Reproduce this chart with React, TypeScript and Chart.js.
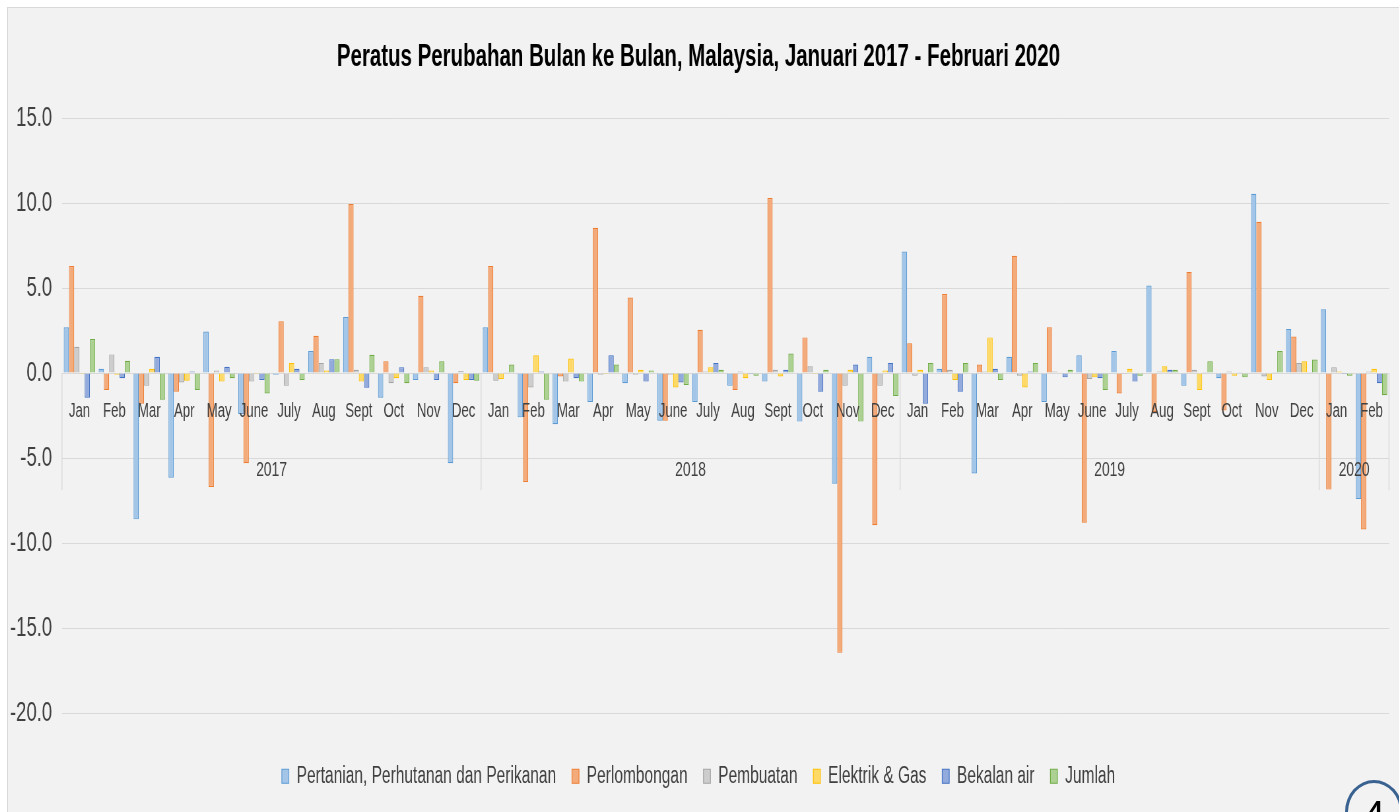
import { useEffect, useRef } from "react";
import { Chart, registerables } from "chart.js";

Chart.register(...registerables);

const monthLabels = [
  "Jan", "Feb", "Mar", "Apr", "May", "June", "July", "Aug", "Sept", "Oct", "Nov", "Dec",
  "Jan", "Feb", "Mar", "Apr", "May", "June", "July", "Aug", "Sept", "Oct", "Nov", "Dec",
  "Jan", "Feb", "Mar", "Apr", "May", "June", "July", "Aug", "Sept", "Oct", "Nov", "Dec",
  "Jan", "Feb",
];
const yearLabels = ["2017", "2018", "2019", "2020"];
const yearCounts = [12, 12, 12, 2];

const pertanian = [
  2.7, 0.25, -8.6, -6.15, 2.45, -2.4, -0.1, 1.3, 3.3, -1.45, -0.4, -5.3,
  2.7, -2.6, -3.0, -1.7, -0.6, -2.8, -1.7, -0.75, -0.5, -2.85, -6.5, 0.96,
  7.15, 0.25, -5.9, 0.96, -1.7, 1.05, 1.3, 5.15, -0.75, -0.3, 10.55, 2.6,
  3.75, -7.4,
];
const perlombongan = [
  6.3, -1.0, -1.8, -1.1, -6.7, -5.3, 3.05, 2.2, 9.95, 0.7, 4.55, -0.6,
  6.3, -6.4, -0.2, 8.55, 4.45, -2.8, 2.55, -1.0, 10.3, 2.1, -16.45, -8.95,
  1.75, 4.65, 0.5, 6.9, 2.7, -8.8, -1.2, -2.3, 5.95, -2.2, 8.9, 2.15,
  -6.85, -9.2,
];
const pembuatan = [
  1.55, 1.1, -0.75, -0.55, 0.15, -0.5, -0.75, 0.6, 0.2, -0.6, 0.35, 0.12,
  -0.45, -0.85, -0.5, -0.1, -0.1, -0.1, 0.1, 0.1, 0.2, 0.4, -0.75, -0.75,
  -0.15, 0.2, 0.1, -0.15, 0.1, -0.35, -0.05, 0.1, 0.2, 0.1, -0.2, 0.6,
  0.35, 0.1,
];
const elektrikGas = [
  -0.05, -0.1, 0.25, -0.45, -0.5, -0.05, 0.6, 0.15, -0.5, -0.3, 0.15, -0.4,
  -0.35, 1.05, 0.86, -0.05, 0.2, -0.85, 0.35, -0.3, -0.2, -0.05, 0.2, 0.15,
  0.2, -0.4, 2.1, -0.85, 0.05, -0.25, 0.25, 0.4, -1.0, -0.15, -0.4, 0.7,
  0.1, 0.25,
];
const bekalanAir = [
  -1.45, -0.3, 0.96, 0.1, 0.37, -0.4, 0.25, 0.82, -0.86, 0.35, -0.4, -0.4,
  0.05, 0.1, -0.3, 1.05, -0.5, -0.55, 0.6, -0.05, 0.2, -1.1, 0.5, 0.6,
  -1.8, -1.1, 0.25, 0.1, -0.25, -0.3, -0.5, 0.2, 0.05, 0.05, 0.05, 0.05,
  -0.05, -0.6,
];
const jumlah = [
  2.0, 0.72, -1.57, -1.0, -0.3, -1.2, -0.4, 0.82, 1.08, -0.6, 0.7, -0.45,
  0.5, -1.57, -0.5, 0.5, 0.15, -0.7, 0.2, -0.15, 1.15, 0.2, -2.85, -1.35,
  0.6, 0.6, -0.4, 0.6, 0.2, -1.0, -0.15, 0.2, 0.7, -0.25, 1.3, 0.8,
  -0.15, -1.3,
];

const seriesNames = [
  "Pertanian, Perhutanan dan Perikanan",
  "Perlombongan",
  "Pembuatan",
  "Elektrik & Gas",
  "Bekalan air",
  "Jumlah",
];
const seriesValues = [pertanian, perlombongan, pembuatan, elektrikGas, bekalanAir, jumlah];
const fillColors = ["#a3c6e8", "#f4ab7c", "#cdcdcd", "#ffd966", "#93abdc", "#acd192"];
const edgeColors = ["#5b9bd5", "#ed7d31", "#a5a5a5", "#ffc000", "#4472c4", "#70ad47"];

const titleText = "Peratus Perubahan Bulan ke Bulan, Malaysia, Januari 2017 - Februari 2020";

const SX = 0.66;
const W = 2108;
const H = 790;
const FONT = "'Liberation Sans', Arial, sans-serif";

const categoryAxisPlugin = {
  id: "categoryAxisPlugin",
  afterDatasetsDraw(chart: any) {
    const { ctx, scales } = chart;
    const x = scales.x;
    const y = scales.y;
    const y0 = y.getPixelForValue(0);
    const half = (x.getPixelForValue(1) - x.getPixelForValue(0)) / 2;
    ctx.save();
    ctx.fillStyle = "#404040";
    ctx.textAlign = "center";
    ctx.textBaseline = "middle";
    ctx.font = `20px ${FONT}`;
    monthLabels.forEach((m, i) => {
      ctx.fillText(m, x.getPixelForValue(i), y0 + 38);
    });
    ctx.font = `21px ${FONT}`;
    const bounds: number[] = [];
    let start = 0;
    yearCounts.forEach((c, k) => {
      const left = x.getPixelForValue(start) - half;
      const right = x.getPixelForValue(start + c - 1) + half;
      ctx.fillText(yearLabels[k], (left + right) / 2, y0 + 97);
      if (k === 0) bounds.push(left);
      bounds.push(right);
      start += c;
    });
    ctx.strokeStyle = "#d9d9d9";
    ctx.lineWidth = 1.5;
    bounds.forEach((b) => {
      ctx.beginPath();
      ctx.moveTo(b, y0);
      ctx.lineTo(b, y0 + 117);
      ctx.stroke();
    });
    ctx.restore();
  },
};

export default function App() {
  const ref = useRef<HTMLCanvasElement | null>(null);

  useEffect(() => {
    if (!ref.current) return;
    Chart.defaults.font.family = FONT;
    const chart = new Chart(ref.current, {
      type: "bar",
      data: {
        labels: monthLabels.map((m, i) => `${m}-${i}`),
        datasets: seriesNames.map((name, i) => ({
          label: name,
          data: seriesValues[i],
          backgroundColor: fillColors[i],
          borderColor: edgeColors[i],
          borderWidth: 1.2,
          categoryPercentage: 0.9,
          barPercentage: 1.0,
        })),
      },
      options: {
        responsive: false,
        maintainAspectRatio: false,
        animation: false,
        devicePixelRatio: 1,
        layout: { padding: { left: 0, right: 15.6, top: 0, bottom: 0 } },
        plugins: {
          title: {
            display: true,
            text: titleText,
            color: "#000000",
            font: { size: 31, weight: "bold", family: FONT },
            padding: { top: 30.4, bottom: 42.4 },
          },
          legend: {
            display: true,
            position: "bottom",
            labels: {
              boxWidth: 10.6,
              boxHeight: 14,
              padding: 24,
              color: "#404040",
              font: { size: 23.5, family: FONT },
            },
          },
          tooltip: { enabled: false },
        },
        scales: {
          x: {
            type: "category",
            display: true,
            ticks: { display: false },
            grid: { display: false },
            border: { display: false },
            afterFit: (s: any) => {
              s.height = 27.25;
            },
          },
          y: {
            min: -20,
            max: 15,
            ticks: {
              stepSize: 5,
              padding: 15,
              color: "#404040",
              font: { size: 28, family: FONT },
              callback: (v: any) => Number(v).toFixed(1),
            },
            grid: { color: "#d9d9d9", lineWidth: 1, drawTicks: false },
            border: { display: false },
            afterFit: (s: any) => {
              s.width = 81.8;
            },
          },
        },
      },
      plugins: [categoryAxisPlugin],
    });
    return () => chart.destroy();
  }, []);

  return (
    <div
      style={{
        position: "absolute",
        left: 0,
        top: 0,
        width: 1399,
        height: 812,
        overflow: "hidden",
        background: "#ffffff",
      }}
    >
      <div
        style={{
          position: "absolute",
          left: 7,
          top: 7,
          width: 1392,
          height: 805,
          background: "#f2f2f2",
          borderTop: "1px solid #d9d9d9",
          borderLeft: "1px solid #d9d9d9",
          overflow: "hidden",
        }}
      >
        <canvas
          ref={ref}
          width={W}
          height={H}
          style={{
            width: W,
            height: H,
            display: "block",
            transform: `scaleX(${SX})`,
            transformOrigin: "0 0",
          }}
        />
      </div>
      <div
        style={{
          position: "absolute",
          left: 1345,
          top: 780,
          width: 52,
          height: 52,
          border: "3px solid #3a6291",
          borderRadius: "50%",
          background: "transparent",
          color: "#000000",
          fontFamily: FONT,
          fontSize: 40,
          lineHeight: "52px",
          textAlign: "center",
          boxSizing: "content-box",
          paddingTop: 6,
        }}
      >
        4
      </div>
    </div>
  );
}
